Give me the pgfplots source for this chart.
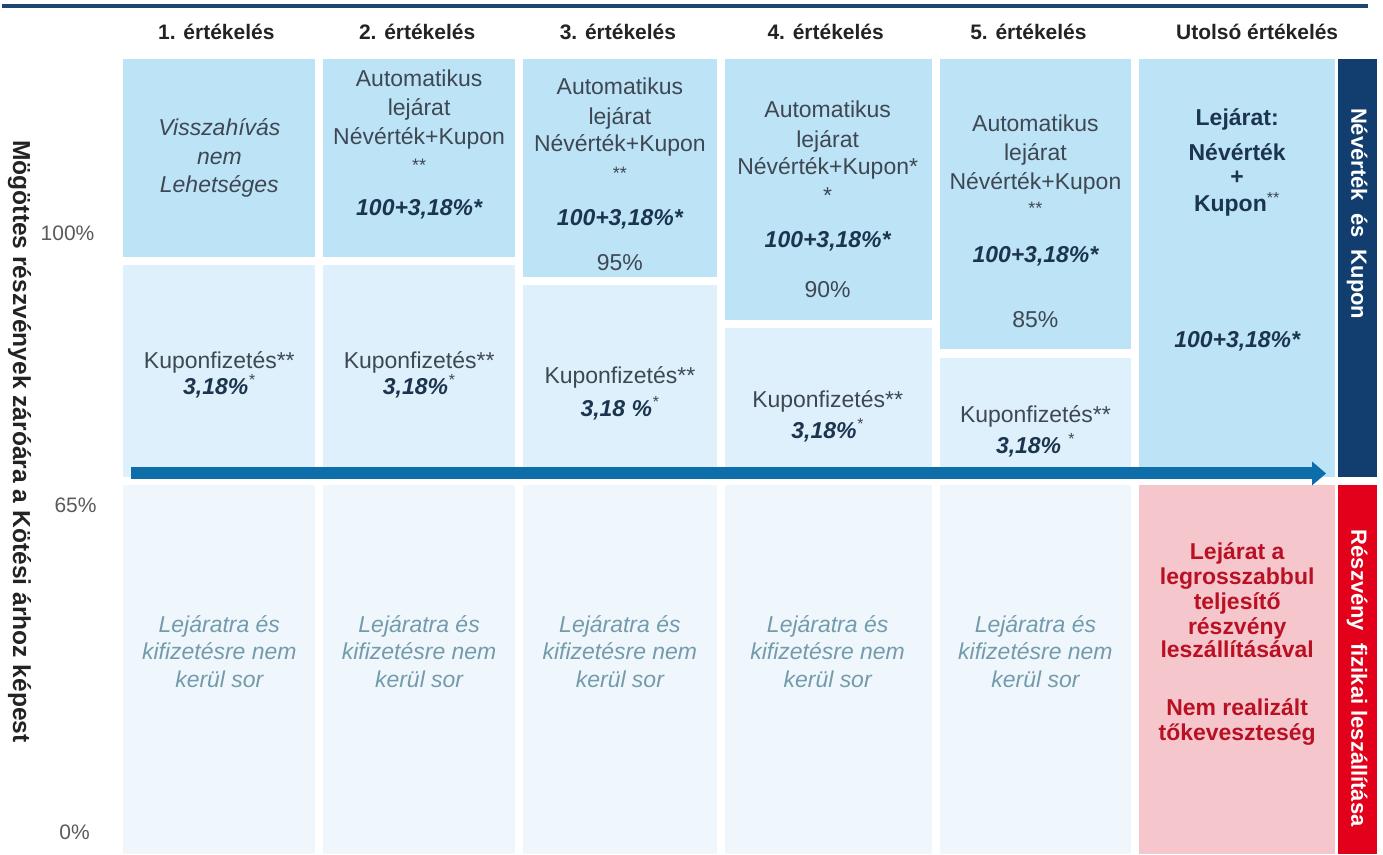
\documentclass[border=0pt]{standalone}
\usepackage{pgfplots}
\pgfplotsset{compat=1.18}
\usetikzlibrary{arrows.meta}
\usepackage{fontspec}
\setmainfont{Liberation Sans}

\definecolor{upbox}{RGB}{189,227,247}
\definecolor{midbox}{RGB}{221,240,251}
\definecolor{lowbox}{RGB}{239,247,253}
\definecolor{pinkbox}{RGB}{245,199,204}
\definecolor{navybar}{RGB}{17,62,110}
\definecolor{redbar}{RGB}{226,0,26}
\definecolor{arrowblue}{RGB}{14,110,170}
\definecolor{topline}{RGB}{31,70,115}
\definecolor{txt}{RGB}{62,72,82}
\definecolor{numtxt}{RGB}{28,52,78}
\definecolor{faint}{RGB}{115,155,172}
\definecolor{redtxt}{RGB}{185,16,36}
\definecolor{head}{RGB}{35,35,35}
\definecolor{ticktxt}{RGB}{90,90,90}

% one filled box: colour, x1, x2, y1, y2 (pixel grid, y runs down)
\newcommand{\rect}[5]{\addplot[fill=#1, draw=none] coordinates {(#2,#4) (#3,#4) (#3,#5) (#2,#5)} -- cycle;}
\newcommand{\st}{\textsuperscript{\mdseries\color{txt}*}}

\begin{document}
\begin{tikzpicture}[
    body/.style={anchor=base, inner sep=0pt, text=txt, font=\fontsize{11.5}{14}\selectfont},
    itl/.style={anchor=base, inner sep=0pt, text=txt, font=\fontsize{11.5}{14}\selectfont\itshape},
    num/.style={anchor=base, inner sep=0pt, text=numtxt, font=\fontsize{11.5}{14}\selectfont\bfseries\itshape},
    bold/.style={anchor=base, inner sep=0pt, text=numtxt, font=\fontsize{11.5}{14}\selectfont\bfseries},
    sm/.style={anchor=base, inner sep=0pt, text=txt, font=\fontsize{9}{11}\selectfont},
    fnt/.style={anchor=base, inner sep=0pt, text=faint, font=\fontsize{11.5}{14}\selectfont\itshape},
    red/.style={anchor=base, inner sep=0pt, text=redtxt, font=\fontsize{11.5}{14}\selectfont\bfseries},
    hd/.style={anchor=base, inner sep=0pt, text=head, font=\fontsize{10.5}{13}\selectfont\bfseries},
    tk/.style={anchor=base, inner sep=0pt, text=ticktxt, font=\fontsize{10.5}{13}\selectfont},
]
\begin{axis}[
    width=691.5pt, height=427.5pt, scale only axis,
    xmin=0, xmax=1383, ymin=0, ymax=855, y dir=reverse,
    hide axis, clip=false,
]
\path (0,0) rectangle (1383,855);

% top rule
\addplot[topline, line width=1.6pt] coordinates {(0,6) (1368,6)};

% columns 1-5: upper, coupon and lower boxes
\rect{upbox}{122}{314}{59}{257}
\rect{midbox}{122}{314}{265}{478}
\rect{lowbox}{122}{314}{486}{855}
\rect{upbox}{322}{514}{59}{257}
\rect{midbox}{322}{514}{265}{478}
\rect{lowbox}{322}{514}{486}{855}
\rect{upbox}{522}{716}{59}{277}
\rect{midbox}{522}{716}{285}{478}
\rect{lowbox}{522}{716}{486}{855}
\rect{upbox}{724}{931}{59}{320}
\rect{midbox}{724}{931}{328}{478}
\rect{lowbox}{724}{931}{486}{855}
\rect{upbox}{939}{1131}{59}{349}
\rect{midbox}{939}{1131}{358}{478}
\rect{lowbox}{939}{1131}{486}{855}
% last column and side bars
\rect{upbox}{1139}{1335}{59}{478}
\rect{pinkbox}{1139}{1335}{486}{855}
\rect{navybar}{1338}{1377}{59}{478}
\rect{redbar}{1338}{1377}{486}{855}

% arrow
\addplot[arrowblue, line width=6pt, -{Triangle[width=11.5pt,length=7pt]}] coordinates {(130,474) (1326,474)};

% headers
\node[hd] at (215,40) {1. értékelés};
\node[hd] at (416,40) {2. értékelés};
\node[hd] at (617,40) {3. értékelés};
\node[hd] at (825,40) {4. értékelés};
\node[hd] at (1028,40) {5. értékelés};
\node[hd] at (1257,40) {Utolsó értékelés};

% y labels
\node[tk] at (66,241) {100\%};
\node[tk] at (74,513) {65\%};
\node[tk] at (73,840) {0\%};
\node[rotate=-90, inner sep=0pt, text=head, font=\fontsize{12.3}{14}\selectfont\bfseries] at (18,442) {Mögöttes részvények záróára a Kötési árhoz képest};

% column 1
\node[itl] at (218,136) {Visszahívás};
\node[itl] at (218,165) {nem};
\node[itl] at (218,193) {Lehetséges};
% column 2
\node[body] at (418,87) {Automatikus};
\node[body] at (418,116) {lejárat};
\node[body] at (418,145) {Névérték+Kupon};
\node[sm] at (418,172) {**};
\node[num] at (418,216) {100+3,18\%*};
% column 3
\node[body] at (619,95) {Automatikus};
\node[body] at (619,125) {lejárat};
\node[body] at (619,152) {Névérték+Kupon};
\node[sm] at (619,180) {**};
\node[num] at (619,226) {100+3,18\%*};
\node[body] at (619,271) {95\%};
% column 4
\node[body] at (827,118) {Automatikus};
\node[body] at (827,148) {lejárat};
\node[body] at (827,175) {Névérték+Kupon*};
\node[body] at (827,204) {*};
\node[num] at (827,248) {100+3,18\%*};
\node[body] at (827,298) {90\%};
% column 5
\node[body] at (1035,132) {Automatikus};
\node[body] at (1035,161) {lejárat};
\node[body] at (1035,190) {Névérték+Kupon};
\node[sm] at (1035,215) {**};
\node[num] at (1035,263) {100+3,18\%*};
\node[body] at (1035,328) {85\%};
% column 6
\node[bold] at (1237,126) {Lejárat:};
\node[bold] at (1237,161) {Névérték};
\node[bold] at (1237,185) {+};
\node[bold] at (1237,212) {Kupon\textsuperscript{\mdseries\color{txt}**}};
\node[num] at (1237,348) {100+3,18\%*};

% coupon boxes
\node[body] at (218,369) {Kuponfizetés**};
\node[num] at (218,395) {3,18\%\st};
\node[body] at (418,369) {Kuponfizetés**};
\node[num] at (418,395) {3,18\%\st};
\node[body] at (619,384) {Kuponfizetés**};
\node[num] at (619,417) {3,18 \%\st};
\node[body] at (827,408) {Kuponfizetés**};
\node[num] at (827,439) {3,18\%\st};
\node[body] at (1035,423) {Kuponfizetés**};
\node[num] at (1035,454) {3,18\% \st};

% lower boxes
\foreach \cx in {218,418,619,827,1035} {
  \edef\tmp{\noexpand\node[fnt] at (\cx,633) {Lejáratra és};
    \noexpand\node[fnt] at (\cx,660) {kifizetésre nem};
    \noexpand\node[fnt] at (\cx,688) {kerül sor};}
  \tmp
}

% pink box
\node[red] at (1237,560) {Lejárat a};
\node[red] at (1237,585) {legrosszabbul};
\node[red] at (1237,610) {teljesítő};
\node[red] at (1237,635) {részvény};
\node[red] at (1237,658) {leszállításával};
\node[red] at (1237,716) {Nem realizált};
\node[red] at (1237,741) {tőkeveszteség};

% side bar labels
\node[rotate=-90, inner sep=0pt, text=white, font=\fontsize{11}{13}\selectfont\bfseries] at (1357,214) {Névérték\ \ és\ \ Kupon};
\node[rotate=-90, inner sep=0pt, text=white, font=\fontsize{11}{13}\selectfont\bfseries] at (1357,679) {Részvény\ \ fizikai leszállítása};
\end{axis}
\end{tikzpicture}
\end{document}
